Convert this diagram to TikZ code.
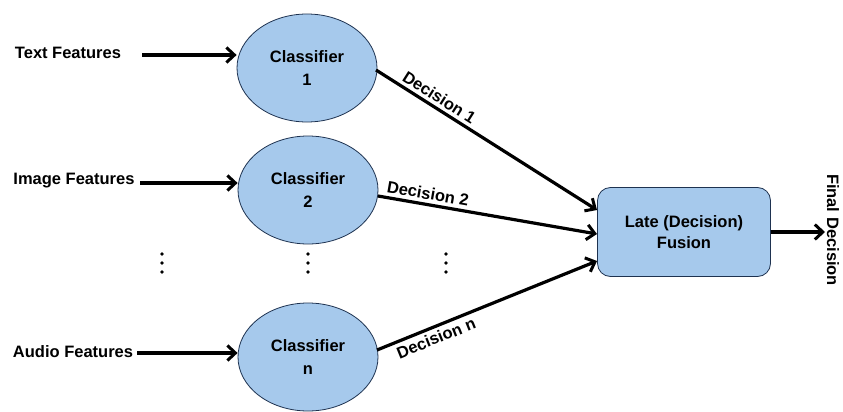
\documentclass[tikz,border=0pt]{standalone}
\usepackage{fontspec}
\setmainfont{Liberation Sans}
\usetikzlibrary{arrows.meta,shapes.geometric}
\definecolor{nodeblue}{RGB}{166,201,236}
\definecolor{edgeblue}{RGB}{30,50,80}
\tikzset{
  clf/.style={ellipse,draw=edgeblue,line width=0.8pt,fill=nodeblue,minimum width=140pt,minimum height=108pt,align=center,font=\bfseries\fontsize{16.5}{23}\selectfont},
  fusebox/.style={rectangle,rounded corners=13pt,draw=edgeblue,line width=0.8pt,fill=nodeblue,minimum width=173pt,minimum height=89pt,align=center,font=\bfseries\fontsize{16.5}{21}\selectfont},
  lbl/.style={font=\bfseries\fontsize{16.5}{19}\selectfont},
  arr/.style={line width=3.2pt,-{Straight Barb[length=8pt,width=15pt,line width=3pt]}},
  dot/.style={circle,fill=black,inner sep=0pt,minimum size=3.6pt}
}
\begin{document}
\begin{tikzpicture}[x=1pt,y=-1pt]
\useasboundingbox (0,0) rectangle (843,412);
\node[clf] (c1) at (307,68) {Classifier\\1};
\node[clf] (c2) at (308,190) {Classifier\\2};
\node[clf] (cn) at (308,357) {Classifier\\n};
\node[fusebox] (f) at (684,232) {Late (Decision)\\Fusion};
\node[lbl] (t) at (68,53) {Text Features};
\node[lbl] (i) at (74,181) {Image Features};
\node[lbl] (a) at (73,352) {Audio Features};
\coordinate (ts) at (142,55);
\coordinate (is) at (140,183);
\coordinate (as) at (137,353);
\draw[arr] (ts) -- (c1.west |- ts);
\draw[arr] (is) -- (c2.west |- is);
\draw[arr] (as) -- (cn.west |- as);
\coordinate (d1s) at (376,70);
\coordinate (d2s) at (378,196);
\coordinate (dns) at (377,350);
\coordinate (d1e) at (597,210);
\coordinate (d2e) at (597,234);
\coordinate (dne) at (597,261);
\draw[arr] (d1s) -- node[lbl,sloped,above,pos=0.26] {Decision 1} (d1e);
\draw[arr] (d2s) -- node[lbl,sloped,above,pos=0.22] {Decision 2} (d2e);
\draw[arr] (dns) -- node[lbl,sloped,below,pos=0.25] {Decision n} (dne);
\coordinate (fe) at (825,232);
\draw[arr] (f.east |- fe) -- (fe);
\node[lbl,rotate=-90] (fd) at (833,230) {Final Decision};
\foreach \x/\n in {162/a,308/b,446/c}{
  \node[dot] (d\n1) at (\x,254) {};
  \node[dot] (d\n2) at (\x,263) {};
  \node[dot] (d\n3) at (\x,272) {};
}
\end{tikzpicture}
\end{document}
